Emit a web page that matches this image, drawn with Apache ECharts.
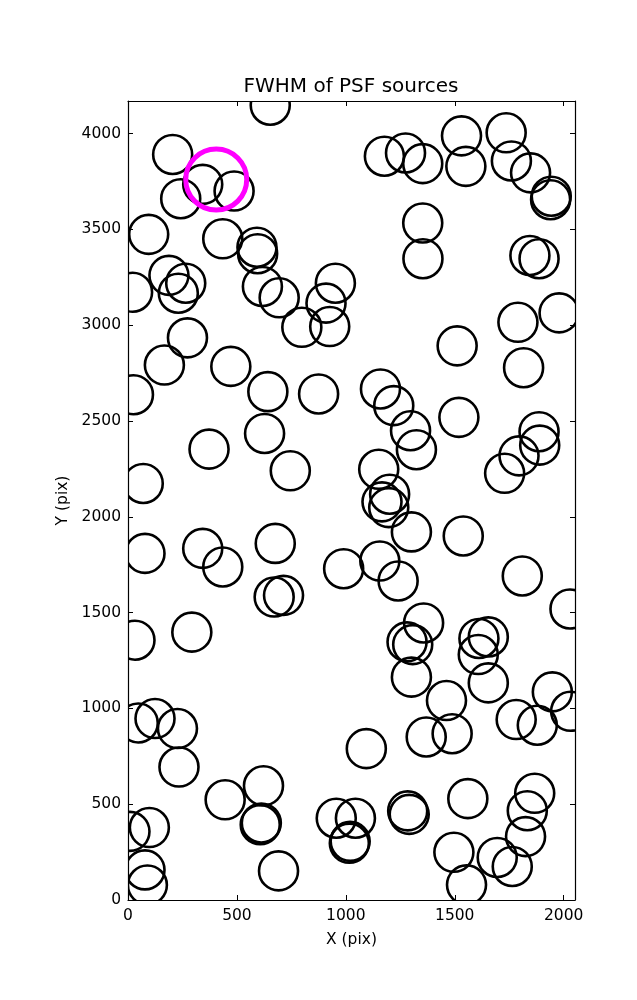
<!DOCTYPE html>
<html>
<head>
<meta charset="utf-8">
<script src="https://cdn.jsdelivr.net/npm/echarts@6/dist/echarts.min.js"></script>
<style>html,body{margin:0;padding:0;background:#fff}#c{width:637px;height:1000px}</style>
</head>
<body>
<div id="c"></div>
<script>
var titleText = 'FWHM of PSF sources';
var xName = 'X (pix)';
var yName = 'Y (pix)';
var xTicks = [0, 500, 1000, 1500, 2000];
var yTicks = [0, 500, 1000, 1500, 2000, 2500, 3000, 3500, 4000];
var xMax = 2052;
var yMax = 4170;

var srcX = [653,205,343,487,242,95,435,592,595,188,265,231,21,617,694,952,909,798,926,273,167,472,
  1177,1274,1353,1531,1551,1736,1760,1848,1943,1940,1353,1354,1845,1887,1979,1790,1511,1816,
  25,642,875,627,372,745,70,78,343,435,676,671,714,990,
  1159,1220,1519,1297,1324,1887,1890,1795,1729,1151,1201,1166,1197,1301,1539,1156,1240,1810,2029,
  1357,1281,1307,1301,1611,1654,1608,1654,1462,1369,1488,1094,1782,1879,1948,2032,
  1284,1291,1560,1867,1833,1825,1496,1695,1764,1554,1044,956,1016,1020,
  32,293,47,124,227,234,446,622,607,612,691,98,9,78,89];
var srcY = [4148,3891,3735,3700,3660,3474,3451,3407,3373,3260,3219,3167,3172,3202,3143,3219,3115,2989,2993,2934,2792,2785,
  3882,3899,3843,3988,3829,4004,3857,3795,3673,3655,3533,3347,3364,3347,3064,3015,2892,2778,
  2637,2653,2641,2435,2353,2240,2174,1809,1835,1738,1861,1581,1590,1729,
  2667,2580,2519,2449,2350,2444,2374,2318,2227,2248,2118,2078,2048,1921,1900,1769,1665,1691,1519,
  1446,1347,1333,1163,1365,1373,1281,1133,1041,851,868,790,942,912,1086,985,
  465,447,529,557,466,331,249,222,175,79,427,427,296,306,
  1356,1398,924,947,895,694,523,596,393,402,152,378,358,157,78];
var markX = [405];
var markY = [3760];

function pairs(xs, ys){ var out = []; for (var i = 0; i < xs.length; i++) out.push([xs[i], ys[i]]); return out; }

var font = 'DejaVu Sans';
function ringSeries(data, r, color, lw){
  return {
    type: 'custom',
    clip: true,
    data: data,
    renderItem: function(params, api){
      var p = api.coord([api.value(0), api.value(1)]);
      return {type:'circle', shape:{cx:p[0], cy:p[1], r:r},
        style:{fill:'none', stroke:color, lineWidth:lw}};
    }
  };
}

var chart = echarts.init(document.getElementById('c'), null, {renderer:'canvas'});
var axisCommon = {
  axisLine:{show:true, onZero:false, lineStyle:{color:'#000', width:1.2}},
  axisTick:{show:true, inside:true, length:5, lineStyle:{color:'#000', width:1}},
  splitLine:{show:false}
};
chart.setOption({
  animation:false,
  backgroundColor:'#fff',
  title:{text:titleText, left:351, top:77, textAlign:'center', padding:0,
    textStyle:{fontFamily:font, fontSize:20, fontWeight:'normal', color:'#000'}},
  grid:{left:128, right:62, top:101, bottom:100},
  xAxis:[
    Object.assign({type:'value', position:'bottom', min:0, max:xMax, interval:500,
      name:xName, nameLocation:'middle', nameGap:32,
      nameTextStyle:{fontFamily:font, fontSize:15.5, color:'#000'},
      axisLabel:{fontFamily:font, fontSize:15.5, color:'#000', margin:8, showMaxLabel:false,
        formatter:function(v){ return xTicks.indexOf(v) >= 0 ? String(v) : ''; }}}, axisCommon),
    Object.assign({type:'value', position:'top', min:0, max:xMax, interval:500,
      axisLabel:{show:false}}, axisCommon)
  ],
  yAxis:[
    Object.assign({type:'value', position:'left', min:0, max:yMax, interval:500,
      name:yName, nameLocation:'middle', nameGap:54, nameRotate:90,
      nameTextStyle:{fontFamily:font, fontSize:15.5, color:'#000'},
      axisLabel:{fontFamily:font, fontSize:15.5, color:'#000', margin:7, showMaxLabel:false,
        formatter:function(v){ return yTicks.indexOf(v) >= 0 ? String(v) : ''; }}}, axisCommon),
    Object.assign({type:'value', position:'right', min:0, max:yMax, interval:500,
      axisLabel:{show:false}}, axisCommon)
  ],
  series:[
    ringSeries(pairs(srcX, srcY), 19.5, '#000', 2.6),
    ringSeries(pairs(markX, markY), 30.5, '#ff00ff', 5)
  ]
});
</script>
</body>
</html>
